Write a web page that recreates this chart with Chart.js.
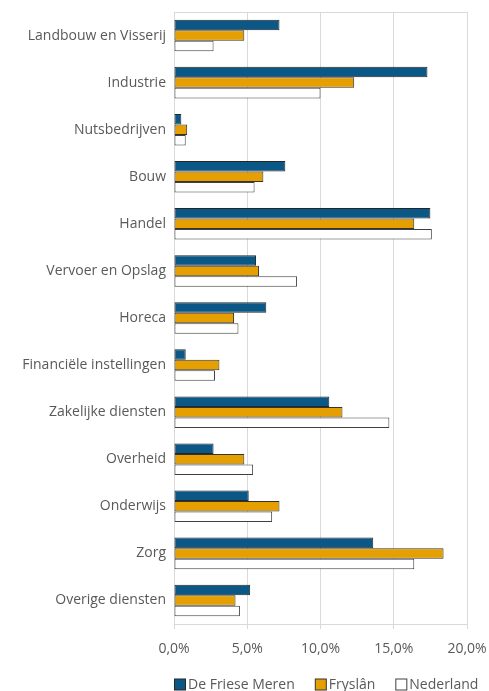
<!DOCTYPE html>
<html>
<head>
<meta charset="utf-8">
<script src="https://cdn.jsdelivr.net/npm/chart.js@4"></script>
<style>
  html, body { margin: 0; padding: 0; background: #fff; }
  #wrap { width: 489px; height: 691px; position: relative; }
</style>
</head>
<body>
<div id="wrap"><canvas id="chart"></canvas></div>
<script>
// categories (sectors)
const sectors = [
  'Landbouw en Visserij', 'Industrie', 'Nutsbedrijven', 'Bouw', 'Handel',
  'Vervoer en Opslag', 'Horeca', 'Financiële instellingen', 'Zakelijke diensten',
  'Overheid', 'Onderwijs', 'Zorg', 'Overige diensten'
];

// share of employment in %
const frieseMeren = [7.2, 17.3, 0.5, 7.6, 17.5, 5.6, 6.3, 0.8, 10.6, 2.7, 5.1, 13.6, 5.2];
const fryslan     = [4.8, 12.3, 0.9, 6.1, 16.4, 5.8, 4.1, 3.1, 11.5, 4.8, 7.2, 18.4, 4.2];
const nederland   = [2.7, 10.0, 0.8, 5.5, 17.6, 8.4, 4.4, 2.8, 14.7, 5.4, 6.7, 16.4, 4.5];

const seriesNames = ['De Friese Meren', 'Fryslân', 'Nederland'];
const xTicks = [0, 5, 10, 15, 20];

const textColor = '#595959';
const gridColor = '#d9d9d9';
const fontFamily = "'Open Sans', sans-serif";
const fontSize = 14;

// top border line of the plot area
const plotBorder = {
  id: 'plotBorder',
  beforeDatasetsDraw(chart) {
    const { ctx, chartArea } = chart;
    ctx.save();
    ctx.strokeStyle = gridColor;
    ctx.lineWidth = 1;
    ctx.beginPath();
    ctx.moveTo(chartArea.left, chartArea.top + 0.5);
    ctx.lineTo(chartArea.right, chartArea.top + 0.5);
    ctx.stroke();
    ctx.restore();
  }
};

// legend under the plot area, starting at its left edge
const bottomLegend = {
  id: 'bottomLegend',
  afterDraw(chart) {
    const { ctx, chartArea } = chart;
    const box = 11, gap = 3, spacing = 20;
    ctx.save();
    ctx.font = fontSize + 'px ' + fontFamily;
    let x = chartArea.left;
    const y = 684;
    chart.data.datasets.forEach(ds => {
      const w = ctx.measureText(ds.label).width;
      ctx.fillStyle = ds.backgroundColor;
      ctx.strokeStyle = ds.borderColor;
      ctx.lineWidth = 1;
      ctx.fillRect(x + 0.5, y - box / 2 + 0.5, box, box);
      ctx.strokeRect(x + 0.5, y - box / 2 + 0.5, box, box);
      ctx.fillStyle = textColor;
      ctx.textBaseline = 'middle';
      ctx.fillText(ds.label, x + box + gap, y + 1);
      x += box + gap + w + spacing;
    });
    ctx.restore();
  }
};

new Chart(document.getElementById('chart'), {
  type: 'bar',
  data: {
    labels: sectors,
    datasets: [
      { label: seriesNames[0], data: frieseMeren, backgroundColor: '#0b5886', borderColor: '#262626', borderWidth: 1, borderSkipped: false },
      { label: seriesNames[1], data: fryslan, backgroundColor: '#e69f00', borderColor: '#333333', borderWidth: 1, borderSkipped: false },
      { label: seriesNames[2], data: nederland, backgroundColor: '#ffffff', borderColor: '#404040', borderWidth: 1, borderSkipped: false }
    ]
  },
  options: {
    indexAxis: 'y',
    responsive: true,
    maintainAspectRatio: false,
    animation: false,
    layout: { padding: { top: 12, right: 22, left: 0, bottom: 0 } },
    datasets: { bar: { categoryPercentage: 0.67, barPercentage: 1.0 } },
    plugins: {
      tooltip: { enabled: false },
      legend: { display: false }
    },
    scales: {
      x: {
        min: 0,
        max: 20,
        afterBuildTicks: axis => { axis.ticks = xTicks.map(v => ({ value: v })); },
        afterFit: axis => {
          axis.height = 67;
          axis.paddingLeft = 0;
          axis.paddingRight = 0;
        },
        ticks: {
          color: textColor,
          font: { family: fontFamily, size: fontSize },
          padding: 12,
          maxRotation: 0,
          callback: v => v.toFixed(1).replace('.', ',') + '%'
        },
        grid: { color: gridColor, tickLength: 5 },
        border: { color: gridColor }
      },
      y: {
        afterFit: axis => {
          axis.width = 174;
          axis.paddingTop = 0;
          axis.paddingBottom = 0;
        },
        ticks: {
          color: textColor,
          font: { family: fontFamily, size: fontSize },
          padding: 8
        },
        grid: { display: false, drawTicks: false },
        border: { color: gridColor }
      }
    }
  },
  plugins: [plotBorder, bottomLegend]
});
</script>
</body>
</html>
